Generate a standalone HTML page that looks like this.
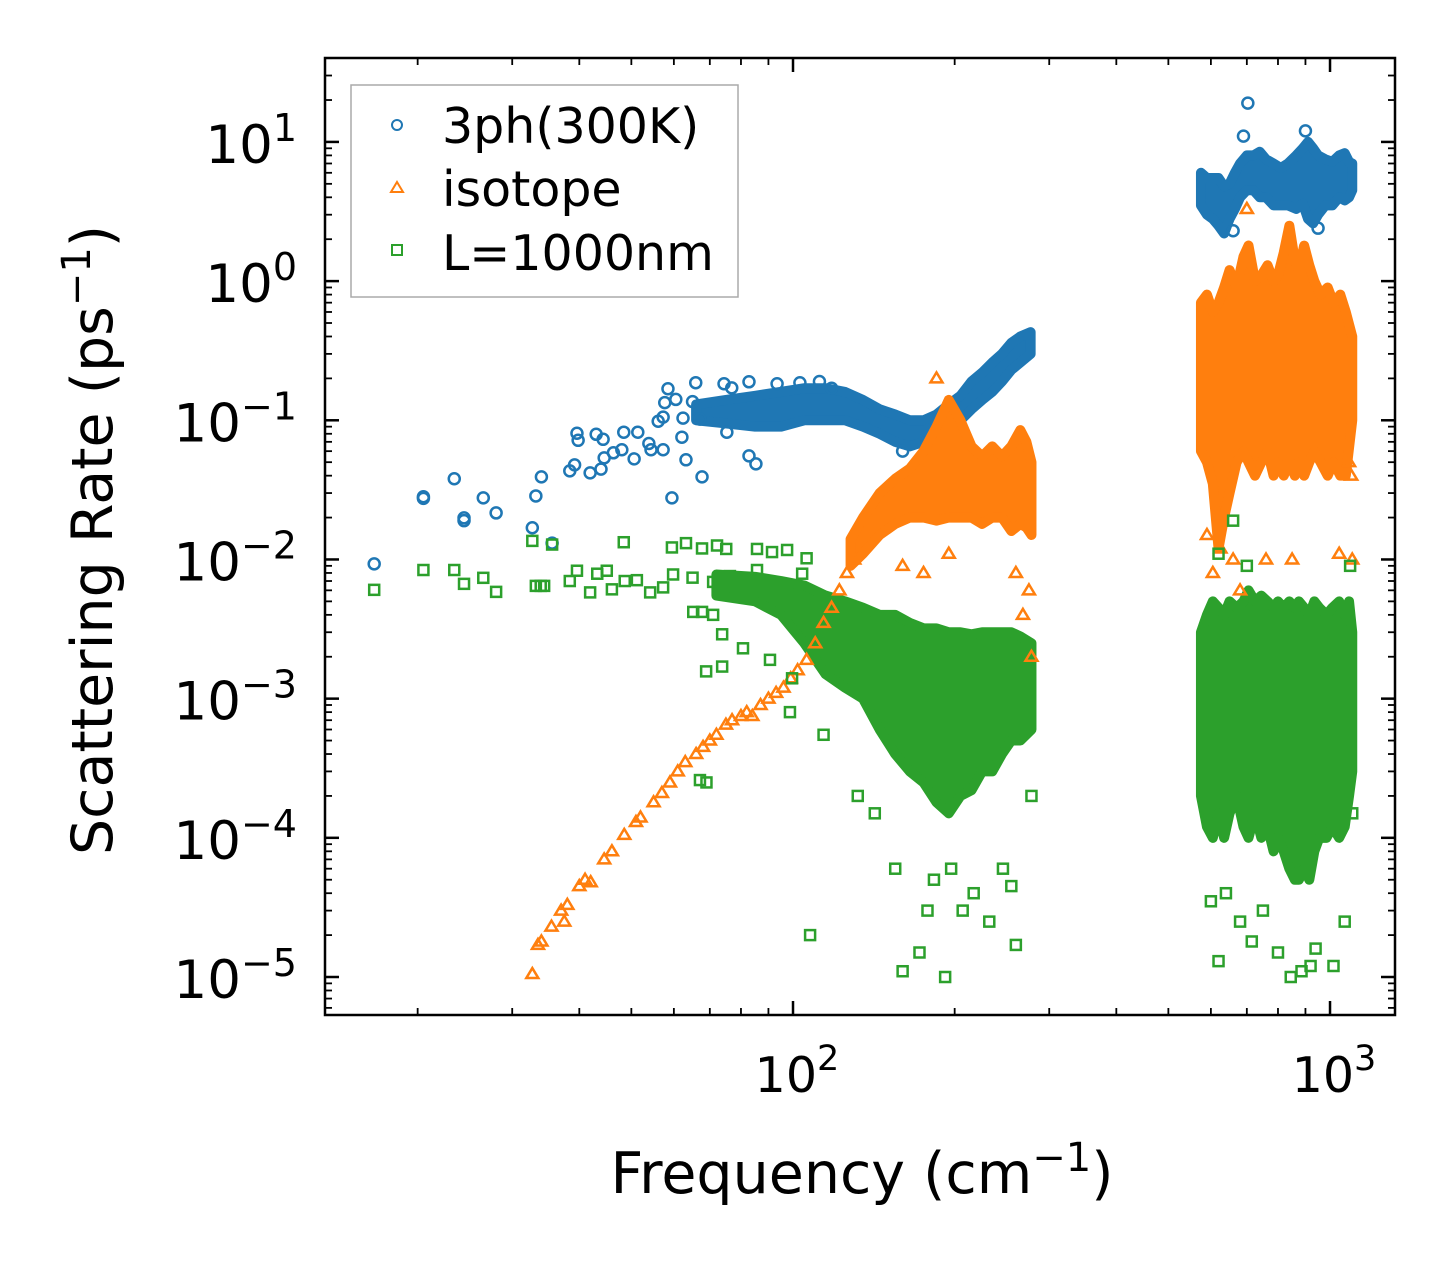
<!DOCTYPE html>
<html><head><meta charset="utf-8"><style>
html,body{margin:0;padding:0;background:#fff;}
svg text{font-family:"DejaVu Sans","Liberation Sans",sans-serif;fill:#000;}
</style></head><body>
<svg id="chart" width="1455" height="1265" viewBox="0 0 1455 1265" xmlns="http://www.w3.org/2000/svg">
<g id="bands"></g>
<g id="marks"></g>
<rect x="325" y="58" width="1070" height="957" fill="none" stroke="#000" stroke-width="2.5"/>
<g id="axes"></g>
<text x="862" y="1193" font-size="57" text-anchor="middle">Frequency (cm<tspan dy="-22" font-size="40">−1</tspan><tspan dy="22">)</tspan></text>
<text transform="translate(112,540) rotate(-90)" font-size="57" text-anchor="middle">Scattering Rate (ps<tspan dy="-22" font-size="40">−1</tspan><tspan dy="22">)</tspan></text>
<g>
<rect x="351" y="85" width="387" height="212" fill="#fff" fill-opacity="0.85" stroke="#aaa" stroke-width="1.5"/>
<circle cx="397" cy="125" r="5" fill="none" stroke="#1f77b4" stroke-width="2"/>
<text x="442" y="143" font-size="49">3ph(300K)</text>
<path d="M397,182 L403,192 L391,192 Z" fill="none" stroke="#ff7f0e" stroke-width="2"/>
<text x="442" y="206" font-size="49">isotope</text>
<rect x="392" y="245" width="10" height="10" fill="none" stroke="#2ca02c" stroke-width="2"/>
<text x="442" y="270" font-size="49">L=1000nm</text>
</g>
</svg>
<script>
// ---- data ----
const xTickValues=[100,1000];
const xTickExps=["2","3"];
const yTickValues=[1e1,1e0,1e-1,1e-2,1e-3,1e-4,1e-5];
const yTickExps=["1","0","−1","−2","−3","−4","−5"];
// sparse points [freq, rate,...]
const bluePts=[16.6,0.0093,20.5,0.0282,20.5,0.0275,23.4,0.038,24.4,0.0199,24.4,0.019,26.5,0.0277,28.0,0.0216,32.7,0.0169,33.2,0.0286,34.0,0.0392,35.6,0.0131,38.4,0.0433,39.2,0.0478,39.6,0.0807,39.8,0.0718,41.9,0.0419,43.0,0.0793,43.9,0.0446,44.3,0.073,44.5,0.0537,46.3,0.0584,48.0,0.0614,48.4,0.0821,50.6,0.0528,51.4,0.0821,53.9,0.0681,54.4,0.0614,57.3,0.0614,56.1,0.0984,57.3,0.1053,58.5,0.1685,57.7,0.134,60.5,0.1412,59.5,0.0277,63.2,0.052,62.1,0.0756,62.4,0.1036,65.0,0.1361,65.9,0.1862,67.7,0.0392,67.1,0.1019,74.4,0.183,76.9,0.171,75.3,0.0821,82.8,0.189,82.8,0.0555,85.3,0.0486,93.4,0.183,103,0.186,112,0.19,118,0.17,160,0.06,703,19,690,11,900,12,950,2.4,660,2.3];
const orangePts=[32.7,1.05e-5,33.5,1.7e-5,34,1.8e-5,35.5,2.3e-5,37,3e-5,37.5,2.5e-5,38,3.3e-5,40,4.5e-5,41,5e-5,42,4.8e-5,44.5,7e-5,46,8e-5,48.5,1.05e-4,51,1.3e-4,52,1.4e-4,55,1.8e-4,57,2.1e-4,59,2.5e-4,61,3e-4,63,3.5e-4,66,4e-4,68,4.5e-4,70,5e-4,72,5.5e-4,75,6.5e-4,77,7e-4,80,7.5e-4,82,8e-4,84,7.5e-4,87,9e-4,90,1e-3,93,1.1e-3,96,1.2e-3,99,1.4e-3,102,1.6e-3,106,1.9e-3,110,2.5e-3,114,3.5e-3,118,4.5e-3,122,6e-3,126,8e-3,130,1e-2,185,0.2,160,0.009,175,0.008,195,0.011,260,0.008,268,0.004,275,0.006,278,0.002,590,0.015,605,0.008,625,0.012,660,0.01,680,0.006,700,3.3,760,0.01,850,0.01,1040,0.011,1085,0.05,1095,0.04,1100,0.01];
const greenPts=[16.6,0.00605,20.5,0.0084,23.4,0.0084,24.4,0.00668,26.5,0.00738,28.0,0.00585,32.7,0.0136,33.2,0.00646,33.9,0.00646,34.4,0.00646,35.6,0.0128,38.4,0.007,39.6,0.0083,41.9,0.0058,43.2,0.0079,45.0,0.0083,46.0,0.0061,48.4,0.0133,48.6,0.007,51.2,0.0071,54.2,0.0058,57.3,0.0063,59.5,0.0122,63.2,0.0131,59.8,0.0078,65.0,0.0074,67.7,0.012,72.2,0.0126,75.1,0.0119,85.7,0.0119,91.4,0.0113,97.5,0.0117,71.0,0.0069,76.3,0.0076,85.7,0.0084,106,0.0102,104,0.0079,65.2,0.0042,67.7,0.0042,71.0,0.004,73.8,0.0029,80.7,0.0023,68.9,0.00157,73.8,0.0017,90.6,0.0019,99.6,0.0014,67.1,2.6e-4,69,2.5e-4,98.7,8e-4,114,5.5e-4,107.6,2e-5,160,1.1e-5,172,1.5e-5,178,3e-5,183,5e-5,192,1e-5,197,6e-5,207,3e-5,217,4e-5,232,2.5e-5,246,6e-5,255,4.5e-5,260,1.7e-5,155,6e-5,142,1.5e-4,132,2e-4,278,2e-4,600,3.5e-5,620,1.3e-5,640,4e-5,680,2.5e-5,715,1.8e-5,750,3e-5,800,1.5e-5,845,1e-5,885,1.1e-5,920,1.2e-5,940,1.6e-5,1015,1.2e-5,1065,2.5e-5,1100,1.5e-4,660,0.019,620,0.011,700,0.009,1090,0.009];
// dense clusters [freq, low, high,...]
const blueBand1=[66,0.1,0.13,75,0.095,0.14,85,0.09,0.15,95,0.09,0.16,105,0.1,0.17,115,0.1,0.17,125,0.1,0.16,135,0.09,0.14,145,0.08,0.12,155,0.07,0.11,165,0.065,0.1,175,0.07,0.1,185,0.075,0.11,195,0.085,0.13,205,0.1,0.15,215,0.12,0.19,225,0.14,0.22,235,0.16,0.26,245,0.19,0.3,255,0.23,0.36,265,0.26,0.4,277,0.3,0.43];
const blueBand2=[575,3.5,6,590,3,5.5,605,2.8,5.5,620,2.5,5.5,635,2.2,4.8,650,2.8,5,665,3.3,6,680,4,7,700,4.5,8,720,4.5,8,740,4,8.5,760,4,7.5,785,3.5,7,810,3.5,6.5,835,3.5,7,865,3.3,8,890,3.6,9,910,2.8,10,930,2.6,9,950,3,8,980,3.5,7.5,1010,3.5,7.2,1040,4,8,1065,3.8,8.3,1085,4,7.2,1100,4.5,7];
const orangeBand1=[128,0.009,0.014,135,0.011,0.02,145,0.015,0.03,155,0.018,0.038,165,0.02,0.045,175,0.02,0.06,185,0.019,0.09,195,0.02,0.14,205,0.02,0.1,215,0.02,0.065,225,0.018,0.055,235,0.02,0.065,245,0.02,0.055,255,0.016,0.065,265,0.018,0.085,272,0.017,0.07,278,0.015,0.05];
const orangeBand2=[575,0.06,0.7,590,0.05,0.8,605,0.035,0.6,620,0.012,0.7,635,0.02,0.9,650,0.03,1.2,670,0.05,0.9,690,0.06,1.5,705,0.05,1.8,725,0.04,1.0,745,0.05,1.1,765,0.06,1.3,785,0.04,1.0,800,0.05,1.1,820,0.04,1.6,840,0.05,2.5,860,0.04,1.4,875,0.05,1.2,895,0.04,1.8,915,0.05,1.3,935,0.06,1.0,960,0.05,0.8,990,0.04,0.9,1015,0.05,0.7,1045,0.04,0.8,1070,0.04,0.6,1100,0.1,0.4];
const greenBand1=[72,0.0055,0.0078,85,0.005,0.0075,95,0.004,0.007,105,0.0025,0.0065,115,0.0015,0.0055,125,0.0012,0.005,135,0.001,0.0045,145,0.0006,0.004,155,0.0004,0.004,165,0.0003,0.0035,175,0.00025,0.0032,185,0.00018,0.0032,195,0.00015,0.003,205,0.0002,0.003,215,0.00022,0.0029,225,0.0003,0.003,235,0.0003,0.003,245,0.0004,0.003,255,0.0005,0.003,265,0.0005,0.0028,278,0.0006,0.0025];
const greenBand2=[575,0.0002,0.003,590,0.00012,0.004,605,0.0001,0.005,620,0.00015,0.0045,635,0.0001,0.004,650,0.00015,0.005,670,0.0002,0.0045,690,0.00012,0.005,705,0.0001,0.006,725,0.00015,0.005,745,0.0001,0.0055,765,0.00012,0.005,785,0.00008,0.0045,800,0.0001,0.005,820,0.00008,0.0045,840,0.00006,0.005,860,0.00005,0.0045,875,0.00005,0.005,895,0.00006,0.0045,915,0.00005,0.004,935,0.00008,0.005,955,0.0001,0.0045,985,0.0001,0.004,1010,0.00012,0.0045,1040,0.0001,0.005,1065,0.00012,0.004,1085,0.0002,0.005,1100,0.0003,0.003];

// ---- axes ----
const X0=325,X1=1395,Y0=58,Y1=1015;
const xLo=1.1285,xHi=3.121,yLo=-5.273,yHi=1.603;
const sx=v=>X0+(Math.log10(v)-xLo)/(xHi-xLo)*(X1-X0);
const sy=v=>Y1-(Math.log10(v)-yLo)/(yHi-yLo)*(Y1-Y0);
const NS='http://www.w3.org/2000/svg';
function mk(tag,attrs,parent){const e=document.createElementNS(NS,tag);for(const k in attrs)e.setAttribute(k,attrs[k]);parent.appendChild(e);return e;}
const axes=document.getElementById('axes'),marks=document.getElementById('marks'),bands=document.getElementById('bands');

for(let d=1;d<=3;d++)for(let m=1;m<10;m++){const v=m*Math.pow(10,d);const lv=Math.log10(v);if(lv<xLo||lv>xHi)continue;
 const x=sx(v),L=m===1?14:7;
 const t1=mk('line',{x1:x,x2:x,y1:Y1,y2:Y1-L,stroke:'#000','stroke-width':m===1?2.5:1.8},axes);
 
 
 const t2=mk('line',{x1:x,x2:x,y1:Y0,y2:Y0+L,stroke:'#000','stroke-width':m===1?2.5:1.8},axes);
 
 }
xTickValues.forEach((v,i)=>{const t=mk('text',{x:sx(v)+4,y:1092,'font-size':49,'text-anchor':'middle'},axes);
 
 
 t.innerHTML='10<tspan dy="-22" font-size="35">'+xTickExps[i]+'</tspan>';});
for(let d=-6;d<=1;d++)for(let m=1;m<10;m++){const v=m*Math.pow(10,d);const lv=Math.log10(v);if(lv<yLo||lv>yHi)continue;
 const y=sy(v),L=m===1?14:7;
 const t1=mk('line',{x1:X0,x2:X0+L,y1:y,y2:y,stroke:'#000','stroke-width':m===1?2.5:1.8},axes);
 
 
 const t2=mk('line',{x1:X1,x2:X1-L,y1:y,y2:y,stroke:'#000','stroke-width':m===1?2.5:1.8},axes);
 
 }
yTickValues.forEach((v,i)=>{const t=mk('text',{x:297,y:sy(v)+21,'font-size':53,'text-anchor':'end'},axes);
 
 
 t.innerHTML='10<tspan dy="-22" font-size="38">'+yTickExps[i]+'</tspan>';});

function band(arr,color,name,pad){let top=[],bot=[];for(let i=0;i<arr.length;i+=3){top.push(sx(arr[i])+','+sy(arr[i+2]));bot.unshift(sx(arr[i])+','+sy(arr[i+1]));}
 const p=mk('polygon',{points:top.concat(bot).join(' '),fill:color,stroke:color,'stroke-width':pad,'stroke-linejoin':'round'},bands);
 
 }
band(blueBand1,'#1f77b4','blue-cluster-low',10);
band(blueBand2,'#1f77b4','blue-cluster-high',10);
band(orangeBand1,'#ff7f0e','orange-cluster-low',10);
band(orangeBand2,'#ff7f0e','orange-cluster-high',10);
band(greenBand1,'#2ca02c','green-cluster-low',10);
band(greenBand2,'#2ca02c','green-cluster-high',10);

for(let i=0;i<bluePts.length;i+=2){const c=mk('circle',{cx:sx(bluePts[i]),cy:sy(bluePts[i+1]),r:5.5,fill:'none',stroke:'#1f77b4','stroke-width':2.5},marks);
 
 }
for(let i=0;i<orangePts.length;i+=2){const x=sx(orangePts[i]),y=sy(orangePts[i+1]);
 const c=mk('path',{d:`M${x},${y-6} L${x+6},${y+4} L${x-6},${y+4} Z`,fill:'none',stroke:'#ff7f0e','stroke-width':2.5},marks);
 
 }
for(let i=0;i<greenPts.length;i+=2){const c=mk('rect',{x:sx(greenPts[i])-5,y:sy(greenPts[i+1])-5,width:10,height:10,fill:'none',stroke:'#2ca02c','stroke-width':2.5},marks);
 
 }
</script>
</body></html>
